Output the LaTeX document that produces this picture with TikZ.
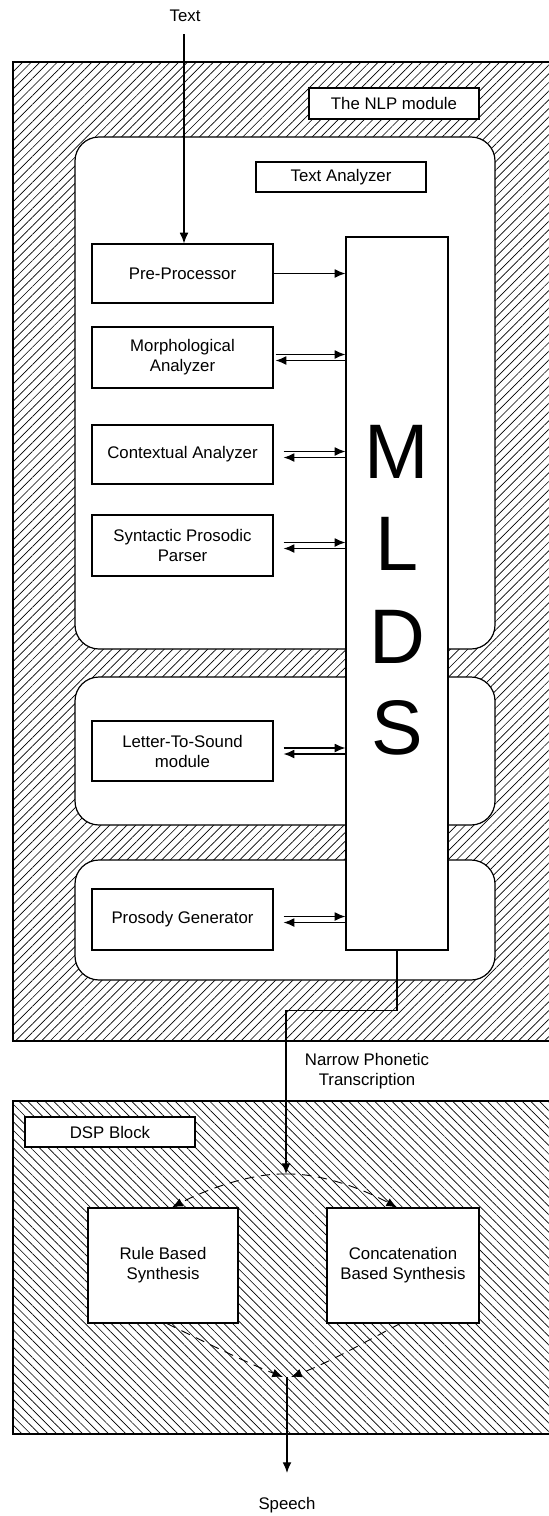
\documentclass[tikz,border=0pt]{standalone}
\usepackage{fontspec}
\setmainfont{Liberation Sans}
\usetikzlibrary{patterns.meta,arrows.meta,calc}
\tikzset{
  lbl/.style={font=\fontsize{12.6}{15}\selectfont, align=center, inner sep=0pt},
  box/.style={draw, fill=white, line width=0.9pt, inner sep=0pt, align=center, font=\fontsize{12.6}{15}\selectfont},
  roundbox/.style={draw, fill=white, line width=0.9pt, rounded corners=18pt},
  arr/.style={-{Latex[length=8pt,width=6.6pt]}, line width=0.9pt},
  dasharr/.style={-{Latex[length=8pt,width=6.6pt]}, line width=0.7pt, dash pattern=on 7pt off 5pt},
  hatchNE/.style={pattern={Lines[angle=45,distance=4.6pt,line width=0.5pt]}},
  hatchNW/.style={pattern={Lines[angle=-45,distance=4.6pt,line width=0.5pt]}},
  big/.style={font=\fontsize{58}{58}\selectfont, inner sep=0pt, anchor=base}
}
\begin{document}
\begin{tikzpicture}[x=0.75pt,y=-0.75pt]
\useasboundingbox (0,0) rectangle (549,1516);
% NLP module background
\path[hatchNE] (13,62) rectangle (560,1041);
\draw[line width=0.9pt] (13,62) rectangle (560,1041);
% DSP block background
\path[hatchNW] (13,1101) rectangle (560,1434);
\draw[line width=0.9pt] (13,1101) rectangle (560,1434);
% rounded containers
\draw[roundbox] (75,137) rectangle (495,649);
\draw[roundbox] (75,677) rectangle (495,825);
\draw[roundbox] (75,860) rectangle (495,980);
% labels
\node[box, minimum width=127.5pt, minimum height=23.25pt] (nlp) at (394,103.5) {The NLP module};
\node[box, minimum width=127.5pt, minimum height=22.5pt] (ta) at (341,177) {Text Analyzer};
\node[box, minimum width=127.5pt, minimum height=22.5pt] (dsp) at (110,1132) {DSP Block};
% MLDS
\node[box, minimum width=76.5pt, minimum height=534.75pt] (mlds) at (397,593.5) {};
\node[big] (m) at (397,478) {M};
\node[big] (l) at (397,570) {L};
\node[big] (d) at (397,663) {D};
\node[big] (s) at (397,754) {S};
% module boxes
\node[box, minimum width=135.75pt, minimum height=44.25pt] (pre) at (182.5,273.5) {Pre-Processor};
\node[box, minimum width=135.75pt, minimum height=45.75pt] (morph) at (182.5,357.5) {Morphological\\Analyzer};
\node[box, minimum width=135.75pt, minimum height=44.25pt] (ctx) at (182.5,454.5) {Contextual Analyzer};
\node[box, minimum width=135.75pt, minimum height=45.75pt] (syn) at (182.5,545.5) {Syntactic Prosodic\\Parser};
\node[box, minimum width=135.75pt, minimum height=45pt] (lts) at (182.5,751) {Letter-To-Sound\\module};
\node[box, minimum width=135.75pt, minimum height=45.75pt] (pros) at (182.5,919.5) {Prosody Generator};
% synthesis boxes
\node[box, minimum width=112.5pt, minimum height=86.25pt] (rule) at (163,1265.5) {Rule Based\\Synthesis};
\node[box, minimum width=114pt, minimum height=86.25pt] (conc) at (403,1265.5) {Concatenation\\Based Synthesis};
% text labels
\node[lbl] (text) at (185,16) {Text};
\node[lbl] (narrow) at (367,1071) {Narrow Phonetic\\Transcription};
\node[lbl] (speech) at (287,1505) {Speech};
% connectors
\draw[arr, shorten <=9pt] (text.south -| 184,0) -- (184,0 |- pre.north);
\draw[arr] (pre.east) -- (pre.east -| mlds.west);
\foreach \b/\dx in {morph/2, ctx/10, syn/10, lts/10, pros/10}{
  \draw[arr] ($(\b.east)+(\dx,-3)$) -- ($(\b.east -| mlds.west)+(0,-3)$);
  \draw[arr] ($(\b.east -| mlds.west)+(0,3)$) -- ($(\b.east)+(\dx,3)$);
}
\coordinate (split) at (286,1174);
\coordinate (join) at (287,1377);
\draw[arr] (mlds.south) -- ++(0,60) -| (split);
\draw[dasharr] (split) .. controls (250,1173) and (205,1190) .. ($(rule.north)+(9,0)$);
\draw[dasharr] (split) .. controls (322,1173) and (365,1190) .. ($(conc.north)+(-6,0)$);
\draw[dasharr] ($(rule.south)+(4,0)$) .. controls (205,1342) and (245,1362) .. ($(join)+(-4,0)$);
\draw[dasharr] ($(conc.south)+(-3,0)$) .. controls (365,1342) and (330,1362) .. ($(join)+(4,0)$);
\draw[arr, shorten >=18pt] (join) -- (join |- speech.north);
\end{tikzpicture}
\end{document}
